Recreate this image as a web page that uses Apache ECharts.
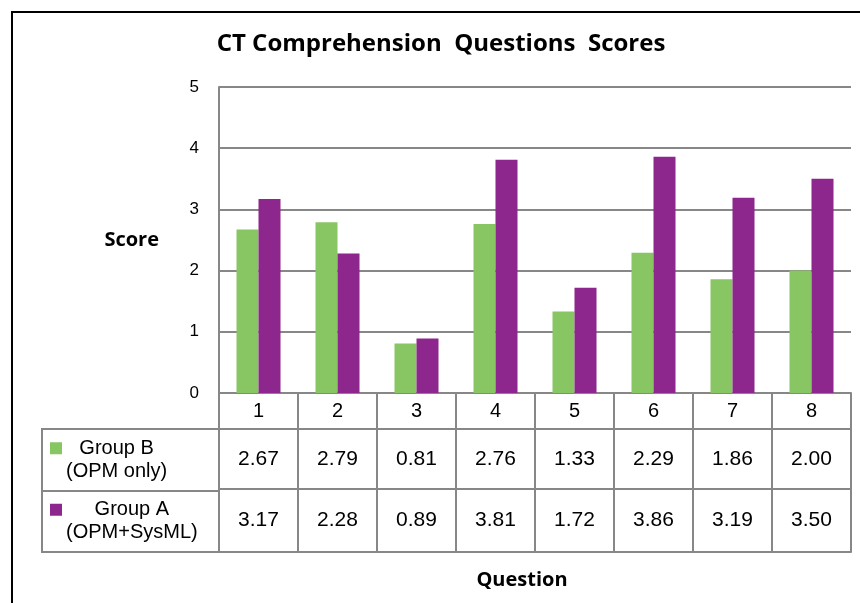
<!DOCTYPE html>
<html>
<head>
<meta charset="utf-8">
<script src="https://cdn.jsdelivr.net/npm/echarts@6/dist/echarts.min.js"></script>
<style>
  html, body { margin: 0; padding: 0; background: #fff; }
  #chart { width: 860px; height: 603px; }
</style>
</head>
<body>
<div id="chart"></div>
<script>
// data
const questions = ['1', '2', '3', '4', '5', '6', '7', '8']
const groupB = [2.67, 2.79, 0.81, 2.76, 1.33, 2.29, 1.86, 2.00]
const groupA = [3.17, 2.28, 0.89, 3.81, 1.72, 3.86, 3.19, 3.50]
const seriesNames = ['Group B', 'Group A']
const seriesNotes = ['(OPM only)', '(OPM+SysML)']
const yTicks = [0, 1, 2, 3, 4, 5]

const GREEN = '#88c563'
const PURPLE = '#8e278d'
const LINE = '#878787'
const NUM_FONT = 'Liberation Sans, Arial, sans-serif'
const HEAD_FONT = 'Open Sans, sans-serif'

const chart = echarts.init(document.getElementById('chart'))

// extra bottom axes only draw the table's horizontal rules
const ruleAxis = (offset) => ({
  type: 'category',
  gridIndex: 0,
  position: 'bottom',
  offset: offset,
  data: questions,
  axisLine: { show: true, lineStyle: { color: LINE, width: 2 } },
  axisTick: { show: false },
  axisLabel: { show: false }
})

const option = {
  animation: false,
  backgroundColor: '#fff',
  color: [GREEN, PURPLE],
  title: {
    text: 'CT Comprehension  Questions  Scores',
    left: 441,
    top: 32,
    padding: 0,
    textAlign: 'center',
    textStyle: { fontFamily: HEAD_FONT, fontWeight: 'bold', fontSize: 24, color: '#000' }
  },
  graphic: [{
    type: 'rect',
    shape: { x: 12, y: 12, width: 900, height: 700 },
    style: { fill: 'none', stroke: '#000', lineWidth: 2 },
    silent: true
  }],
  grid: [
    { left: 219, right: 9, top: 87, bottom: 210 },
    { left: 42, top: 429, width: 177, height: 123, show: true, borderColor: LINE, borderWidth: 2 }
  ],
  xAxis: [
    {
      type: 'category',
      gridIndex: 0,
      data: questions,
      name: 'Question',
      nameLocation: 'middle',
      nameGap: 177,
      nameTextStyle: { fontFamily: HEAD_FONT, fontWeight: 'bold', fontSize: 20, color: '#000', padding: [0, 26, 0, 0] },
      axisLine: { lineStyle: { color: LINE, width: 2 } },
      axisTick: { show: true, length: 159, lineStyle: { color: LINE, width: 2 } },
      axisLabel: {
        interval: 0,
        margin: 0,
        formatter: (value, idx) =>
          '{h|' + value + '}\n{b|' + groupB[idx].toFixed(2) + '}\n{a|' + groupA[idx].toFixed(2) + '}',
        rich: {
          h: { fontFamily: NUM_FONT, fontSize: 20, lineHeight: 36, color: '#000' },
          b: { fontFamily: NUM_FONT, fontSize: 21, lineHeight: 60, color: '#000' },
          a: { fontFamily: NUM_FONT, fontSize: 21, lineHeight: 63, color: '#000' }
        }
      }
    },
    ruleAxis(36),
    ruleAxis(96),
    ruleAxis(159),
    { type: 'value', gridIndex: 1, show: false }
  ],
  yAxis: [
    {
      type: 'value',
      gridIndex: 0,
      min: yTicks[0],
      max: yTicks[yTicks.length - 1],
      interval: 1,
      name: 'Score',
      nameLocation: 'middle',
      nameRotate: 0,
      nameGap: 60,
      nameTextStyle: { fontFamily: HEAD_FONT, fontWeight: 'bold', fontSize: 20, color: '#000' },
      axisLine: { show: true, lineStyle: { color: LINE, width: 2 } },
      axisTick: { show: false },
      axisLabel: { margin: 20, fontFamily: NUM_FONT, fontSize: 17, color: '#000' },
      splitLine: { lineStyle: { color: LINE, width: 2 } }
    },
    {
      // legend column of the data table
      type: 'category',
      gridIndex: 1,
      inverse: true,
      data: seriesNames,
      axisLine: { show: false },
      axisTick: { show: false },
      splitLine: { show: true, lineStyle: { color: LINE, width: 2 } },
      axisLabel: {
        inside: true,
        interval: 0,
        margin: 8,
        formatter: (value, idx) =>
          '{k' + idx + '|}{sp|}{t|' + value + '}\n{n|' + seriesNotes[idx] + '}',
        rich: {
          k0: { width: 12, height: 12, backgroundColor: GREEN, align: 'left' },
          k1: { width: 12, height: 12, backgroundColor: PURPLE, align: 'left' },
          sp: { width: 4, align: 'left' },
          t: { fontFamily: NUM_FONT, fontSize: 20, lineHeight: 23, color: '#000', align: 'center' },
          n: { fontFamily: NUM_FONT, fontSize: 20, lineHeight: 23, color: '#000', align: 'center', padding: [0, 0, 0, 16] }
        }
      }
    }
  ],
  series: [
    {
      name: seriesNames[0],
      type: 'bar',
      xAxisIndex: 0,
      yAxisIndex: 0,
      data: groupB,
      barWidth: 22,
      barGap: '0%',
      itemStyle: { color: GREEN }
    },
    {
      name: seriesNames[1],
      type: 'bar',
      xAxisIndex: 0,
      yAxisIndex: 0,
      data: groupA,
      barWidth: 22,
      barGap: '0%',
      itemStyle: { color: PURPLE }
    }
  ]
}

chart.setOption(option)
</script>
</body>
</html>
